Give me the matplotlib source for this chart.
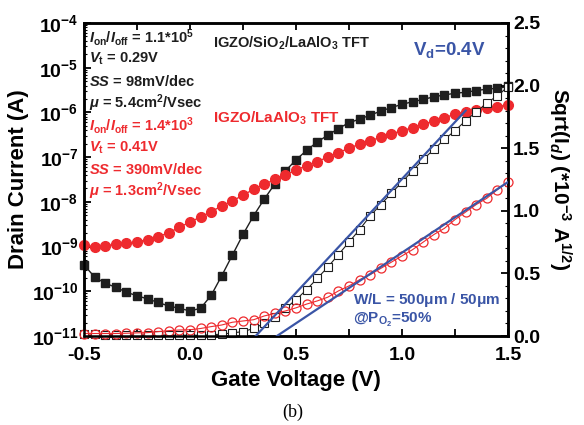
import matplotlib
matplotlib.use("Agg")
import matplotlib.pyplot as plt
import numpy as np
from matplotlib.ticker import MultipleLocator, AutoMinorLocator, LogLocator, NullFormatter

# fonts: bold Arial-like everywhere, incl. mathtext
plt.rcParams['font.family'] = ['Liberation Sans', 'DejaVu Sans']
plt.rcParams['font.weight'] = 'bold'
plt.rcParams['mathtext.fontset'] = 'custom'
plt.rcParams['mathtext.rm'] = 'Liberation Sans:bold'
plt.rcParams['mathtext.bf'] = 'Liberation Sans:bold'
plt.rcParams['mathtext.it'] = 'Liberation Sans:bold:italic'
plt.rcParams['mathtext.default'] = 'rm'

# gate voltage, -0.5 .. 1.5 in 0.05 V steps (41 points)
vg = np.linspace(-0.5, 1.5, 41)

# log10 of drain current, IGZO/SiO2/LaAlO3 (black filled squares)
log_id_sio2 = [-9.41, -9.68, -9.82, -9.91, -10.02, -10.10, -10.17, -10.25, -10.33, -10.38,
               -10.44, -10.38, -10.09, -9.65, -9.19, -8.73, -8.31, -7.94, -7.60, -7.31,
               -7.06, -6.85, -6.66, -6.51, -6.36, -6.23, -6.15, -6.06, -5.97, -5.89,
               -5.82, -5.76, -5.71, -5.65, -5.61, -5.57, -5.55, -5.51, -5.48, -5.46, -5.42]

# log10 of drain current, IGZO/LaAlO3 (red filled circles)
log_id_lao = [-8.97, -9.00, -8.98, -8.95, -8.93, -8.89, -8.85, -8.78, -8.69, -8.57,
              -8.45, -8.34, -8.22, -8.09, -7.98, -7.85, -7.72, -7.61, -7.50, -7.40,
              -7.29, -7.19, -7.10, -7.00, -6.90, -6.80, -6.71, -6.63, -6.56, -6.48,
              -6.41, -6.34, -6.27, -6.19, -6.12, -6.04, -5.98, -5.95, -5.91, -5.87, -5.83]

# sqrt(Id) in 1e-3 A^1/2 (open symbols)
sqrt_sio2 = [0.02, 0.015, 0.012, 0.011, 0.01, 0.009, 0.008, 0.008, 0.007, 0.006,
             0.006, 0.006, 0.01, 0.015, 0.025, 0.035, 0.06, 0.10, 0.15, 0.22,
             0.29, 0.37, 0.46, 0.55, 0.65, 0.75, 0.85, 0.96, 1.05, 1.14,
             1.23, 1.32, 1.41, 1.49, 1.57, 1.64, 1.72, 1.79, 1.86, 1.92, 1.99]
sqrt_lao = [0.02, 0.02, 0.02, 0.02, 0.022, 0.025, 0.027, 0.035, 0.043, 0.048,
            0.05, 0.06, 0.075, 0.088, 0.11, 0.12, 0.13, 0.16, 0.18, 0.20,
            0.225, 0.255, 0.28, 0.31, 0.36, 0.40, 0.45, 0.49, 0.54, 0.59,
            0.64, 0.69, 0.75, 0.81, 0.86, 0.93, 0.99, 1.05, 1.10, 1.17, 1.23]

# linear fits (end points)
fit_sio2_v = [0.31, 1.30]
fit_sio2_y = [0.0, 1.80]
fit_lao_v = [0.41, 1.5]
fit_lao_y = [0.0, 1.23]

RED = '#ee2a2e'
BLUE = '#3a55a6'
BLACK = '#1e1e1e'

fig = plt.figure(figsize=(5.84, 4.25), dpi=100)
ax = fig.add_axes([0.1438, 0.2094, 0.7261, 0.7365])
ax2 = ax.twinx()

# log-scale transfer curves
ax.semilogy(vg, 10 ** np.array(log_id_sio2), '-', color=BLACK, lw=1.0, marker='s', ms=6,
            mfc=BLACK, mec=BLACK, clip_on=False, zorder=3)
ax.semilogy(vg, 10 ** np.array(log_id_lao), '-', color=RED, lw=1.0, marker='o', ms=7,
            mfc=RED, mec=RED, clip_on=False, zorder=3)

# sqrt(Id) curves
ax2.plot(vg, sqrt_sio2, '-', color=BLACK, lw=0.8, marker='s', ms=5.5, mfc='white',
         mec=BLACK, mew=0.8, clip_on=False, zorder=2)
ax2.plot(vg, sqrt_lao, '-', color=RED, lw=0.8, marker='o', ms=6.5, mfc='none',
         mec=RED, mew=0.9, clip_on=False, zorder=2)
ax2.plot(fit_sio2_v, fit_sio2_y, '-', color=BLUE, lw=1.6, zorder=4)
ax2.plot(fit_lao_v, fit_lao_y, '-', color=BLUE, lw=1.6, zorder=4)

# axes ranges and ticks
ax.set_xlim(-0.5, 1.5)
ax.set_ylim(1e-11, 1e-4)
ax2.set_ylim(0, 2.5)

ax.xaxis.set_major_locator(MultipleLocator(0.5))
ax.xaxis.set_minor_locator(MultipleLocator(0.25))
ax.set_xticklabels(['%.1f' % v for v in ax.get_xticks()])
ax.yaxis.set_minor_locator(LogLocator(base=10, subs=np.arange(2, 10), numticks=20))
ax.yaxis.set_minor_formatter(NullFormatter())
ax.set_yticks([10.0 ** e for e in range(-11, -3)])
ax.set_yticklabels([r'10$^{%d}$' % e for e in range(-11, -3)])
ax2.yaxis.set_major_locator(MultipleLocator(0.5))
ax2.yaxis.set_minor_locator(AutoMinorLocator(5))
ax2.set_yticklabels(['%.1f' % v for v in ax2.get_yticks()])

ax.tick_params(axis='both', which='both', direction='in', top=True, labelsize=14)
ax.tick_params(axis='x', which='both', length=5, width=1.3, pad=8)
ax.tick_params(axis='y', which='major', length=5, width=1.3, pad=4)
ax.tick_params(axis='y', which='minor', length=2.5, width=0.8)
ax.tick_params(axis='y', right=False)
ax2.tick_params(axis='y', which='major', direction='in', length=5, width=1.3, labelsize=14)
ax2.tick_params(axis='y', which='minor', direction='in', length=2.5, width=0.8)
for lab in ax.get_xticklabels() + ax.get_yticklabels() + ax2.get_yticklabels():
    lab.set_fontweight('bold')

for sp in ax.spines.values():
    sp.set_linewidth(1.8)
for sp in ax2.spines.values():
    sp.set_linewidth(1.8)

ax.set_xlabel('Gate Voltage (V)', fontsize=16, fontweight='bold', labelpad=4)
ax.set_ylabel('Drain Current (A)', fontsize=16, fontweight='bold', labelpad=2)
ax2.set_ylabel(r'Sqrt(I$_{\mathit{d}}$) (*10$^{-3}$ A$^{1/2}$)', fontsize=15,
               fontweight='bold', rotation=-90, labelpad=24)

# annotations (axes-fraction positions)
black_txt = [r'$\mathit{I}_{on}/\mathit{I}_{off}$ = 1.1*10$^{5}$',
             r'$\mathit{V}_{t}$ = 0.29V',
             r'$\mathit{SS}$ = 98mV/dec',
             r'$\mathit{\mu}$ = 5.4cm$^{2}$/Vsec']
red_txt = [r'$\mathit{I}_{on}/\mathit{I}_{off}$ = 1.4*10$^{3}$',
           r'$\mathit{V}_{t}$ = 0.41V',
           r'$\mathit{SS}$ = 390mV/dec',
           r'$\mathit{\mu}$ = 1.3cm$^{2}$/Vsec']
for i, t in enumerate(black_txt + red_txt):
    ax.text(0.013, 0.955 - i * 0.0705, t, transform=ax.transAxes, fontsize=10.5,
            fontweight='bold', color=BLACK if i < 4 else RED, va='center', ha='left')

ax.text(0.305, 0.935, r'IGZO/SiO$_{2}$/LaAlO$_{3}$ TFT', transform=ax.transAxes,
        fontsize=10.5, fontweight='bold', color=BLACK, va='center')
ax.text(0.305, 0.695, r'IGZO/LaAlO$_{3}$ TFT', transform=ax.transAxes,
        fontsize=11, fontweight='bold', color=RED, va='center')
ax.text(0.775, 0.915, r'V$_{d}$=0.4V', transform=ax.transAxes,
        fontsize=13.5, fontweight='bold', color=BLUE, va='center')
ax.text(0.635, 0.115, r'W/L = 500$\mu$m / 50$\mu$m', transform=ax.transAxes,
        fontsize=11, fontweight='bold', color=BLUE, va='center')
ax.text(0.635, 0.05, r'@P$_{O_2}$=50%', transform=ax.transAxes,
        fontsize=11, fontweight='bold', color=BLUE, va='center')

fig.text(0.502, 0.03, '(b)', fontsize=13, family=['Liberation Serif', 'DejaVu Serif'],
         fontweight='normal', ha='center', va='center')

fig.savefig('out.png', dpi=100)
